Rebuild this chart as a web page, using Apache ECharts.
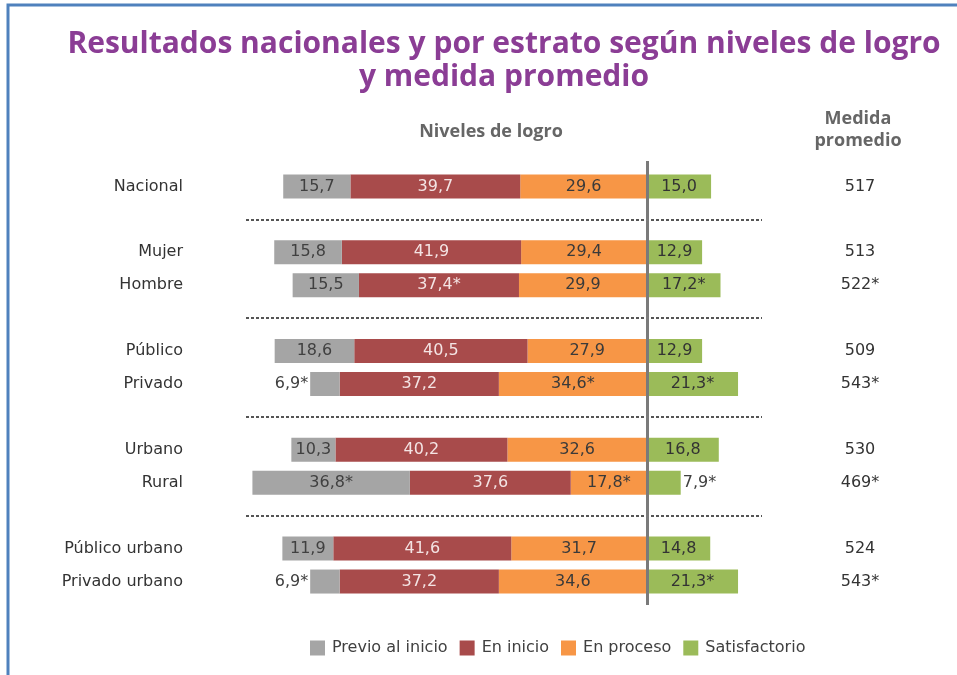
<!DOCTYPE html>
<html>
<head>
<meta charset="utf-8">
<script src="https://cdn.jsdelivr.net/npm/echarts@6/dist/echarts.min.js"></script>
<style>
html,body{margin:0;padding:0;background:#fff;}
#chart{width:957px;height:675px;}
</style>
</head>
<body>
<div id="chart"></div>
<script>
// ---- Data ----
const categories = ['Nacional', '', 'Mujer', 'Hombre', '', 'Público', 'Privado', '', 'Urbano', 'Rural', '', 'Público urbano', 'Privado urbano'];
const previo      = [15.7, null, 15.8, 15.5, null, 18.6, 6.9, null, 10.3, 36.8, null, 11.9, 6.9];
const enInicio    = [39.7, null, 41.9, 37.4, null, 40.5, 37.2, null, 40.2, 37.6, null, 41.6, 37.2];
const enProceso   = [29.6, null, 29.4, 29.9, null, 27.9, 34.6, null, 32.6, 17.8, null, 31.7, 34.6];
const satisfac    = [15.0, null, 12.9, 17.2, null, 12.9, 21.3, null, 16.8, 7.9, null, 14.8, 21.3];
const previoStar    = [0, 0, 0, 0, 0, 0, 1, 0, 0, 1, 0, 0, 1];
const enInicioStar  = [0, 0, 0, 1, 0, 0, 0, 0, 0, 0, 0, 0, 0];
const enProcesoStar = [0, 0, 0, 0, 0, 0, 1, 0, 0, 1, 0, 0, 0];
const satisfacStar  = [0, 0, 0, 1, 0, 0, 1, 0, 0, 1, 0, 0, 1];
const medida = ['517', '', '513', '522*', '', '509', '543*', '', '530', '469*', '', '524', '543*'];
const separators = [1, 4, 7, 10];
const legendNames = ['Previo al inicio', 'En inicio', 'En proceso', 'Satisfactorio'];

// ---- Styling ----
const FONT = 'DejaVu Sans, sans-serif';
const HFONT = 'Open Sans, sans-serif';
const colors = {
  'Previo al inicio': '#a5a5a5',
  'En inicio': '#a84b4b',
  'En proceso': '#f79646',
  'Satisfactorio': '#9bbb59'
};
const fmt = (v, s) => v.toFixed(1).replace('.', ',') + (s ? '*' : '');

function makeSeries(name, values, stars, sign, labelColor, smallPos) {
  return {
    name: name,
    type: 'bar',
    stack: 'total',
    barWidth: 24,
    xAxisIndex: 0,
    yAxisIndex: 0,
    itemStyle: { color: colors[name] },
    label: {
      show: true,
      position: 'inside',
      fontFamily: FONT,
      fontSize: 16,
      color: labelColor,
      formatter: p => fmt(values[p.dataIndex], stars[p.dataIndex])
    },
    data: values.map((v, i) => {
      if (v === null) return null;
      const item = { value: sign * v };
      if (v < 9 && smallPos) {
        item.label = { position: smallPos, color: '#404040', distance: 2 };
      }
      return item;
    })
  };
}

const series = [
  makeSeries('En proceso', enProceso, enProcesoStar, -1, '#3a3a3a', null),
  makeSeries('En inicio', enInicio, enInicioStar, -1, '#f4e4e4', null),
  makeSeries('Previo al inicio', previo, previoStar, -1, '#404040', 'left'),
  makeSeries('Satisfactorio', satisfac, satisfacStar, 1, '#333333', 'right')
];
// separators
series[0].markLine = {
  silent: true,
  symbol: 'none',
  label: { show: false },
  lineStyle: { color: '#555', width: 2, type: [3, 2] },
  data: separators.map(i => ({ yAxis: i }))
};
// center reference line on an overlay grid
series.push({
  type: 'line',
  xAxisIndex: 1,
  yAxisIndex: 2,
  data: [],
  z: 10,
  markLine: {
    silent: true,
    symbol: 'none',
    label: { show: false },
    lineStyle: { color: '#7a7a7a', width: 3, type: 'solid' },
    data: [{ xAxis: 0 }]
  }
});

const XMIN = -93.7, XMAX = 26.9;

const option = {
  animation: false,
  backgroundColor: '#ffffff',
  graphic: [{
    type: 'rect',
    shape: { x: 8, y: 5, width: 1200, height: 1000 },
    style: { fill: 'none', stroke: '#4f81bd', lineWidth: 3 },
    silent: true
  }],
  title: [
    {
      text: 'Resultados nacionales y por estrato según niveles de logro\ny medida promedio',
      left: 499, top: 23, textAlign: 'center',
      textStyle: { fontFamily: HFONT, fontWeight: 'bold', fontSize: 30, color: '#8b3d95', lineHeight: 33 }
    },
    {
      text: 'Niveles de logro',
      left: 486, top: 118, textAlign: 'center',
      textStyle: { fontFamily: HFONT, fontWeight: 'bold', fontSize: 18, color: '#666666' }
    },
    {
      text: 'Medida\npromedio',
      left: 853, top: 103, textAlign: 'center',
      textStyle: { fontFamily: HFONT, fontWeight: 'bold', fontSize: 18, color: '#666666', lineHeight: 22 }
    }
  ],
  legend: {
    data: legendNames,
    left: 305,
    top: 635,
    icon: 'rect',
    itemWidth: 15,
    itemHeight: 15,
    itemGap: 12,
    textStyle: { fontFamily: FONT, fontSize: 16, color: '#404040', padding: [0, 0, 0, 2] }
  },
  grid: [
    { left: 246, right: 195, top: 170, bottom: 675 - 598 },
    { left: 246, right: 195, top: 161, bottom: 675 - 605 }
  ],
  xAxis: [
    { type: 'value', gridIndex: 0, min: XMIN, max: XMAX, show: false },
    { type: 'value', gridIndex: 1, min: XMIN, max: XMAX, show: false }
  ],
  yAxis: [
    {
      type: 'category', gridIndex: 0, data: categories, inverse: true,
      axisLine: { show: false }, axisTick: { show: false }, splitLine: { show: false },
      axisLabel: { margin: 63, fontFamily: FONT, fontSize: 16, color: '#333333' }
    },
    {
      type: 'category', gridIndex: 0, data: categories, inverse: true, position: 'right',
      axisLine: { show: false }, axisTick: { show: false }, splitLine: { show: false },
      axisLabel: {
        margin: 98, align: 'center', fontFamily: FONT, fontSize: 16, color: '#333333',
        formatter: (v, i) => medida[i]
      }
    },
    { type: 'value', gridIndex: 1, min: 0, max: 1, show: false }
  ],
  series: series
};

const chart = echarts.init(document.getElementById('chart'), null, { renderer: 'canvas' });
chart.setOption(option);
</script>
</body>
</html>
